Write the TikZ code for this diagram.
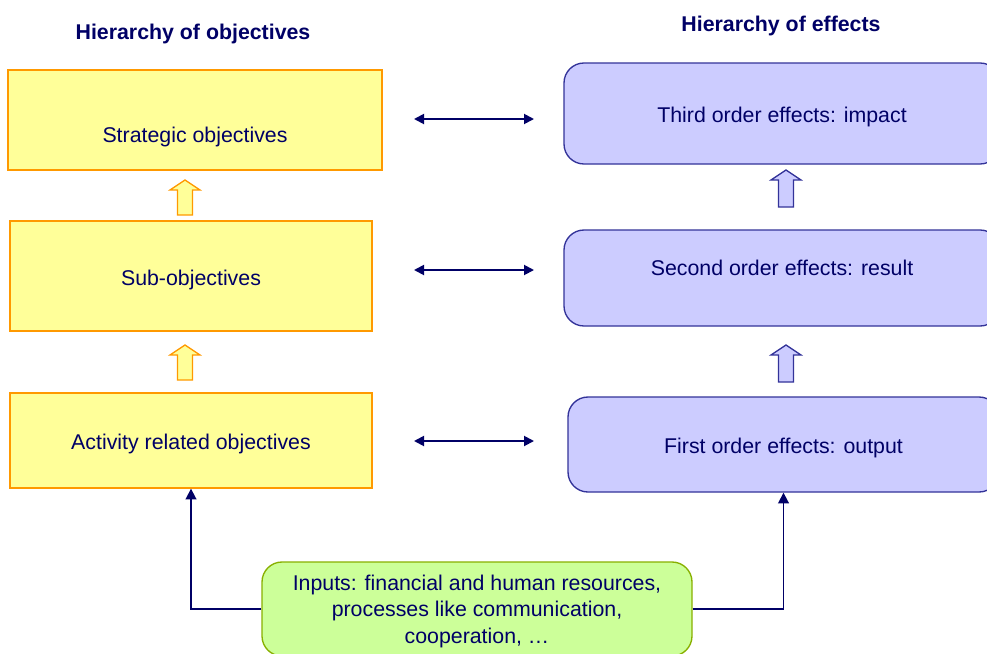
\documentclass[tikz,border=0pt]{standalone}
\usepackage{fontspec}
\setmainfont{Liberation Sans}
\usetikzlibrary{arrows.meta,calc}
\definecolor{txt}{HTML}{000066}
\definecolor{navy}{HTML}{000066}
\definecolor{yfill}{HTML}{FFFF99}
\definecolor{ydraw}{HTML}{FF9900}
\definecolor{bfill}{HTML}{CCCCFF}
\definecolor{bdraw}{HTML}{333399}
\definecolor{gfill}{HTML}{CCFF99}
\definecolor{gdraw}{HTML}{88B000}
\newcommand{\blkarrow}[4]{% x, ytop, ybottom, style
  \filldraw[#4] (#1,#2) -- (#1+15,#2+10) -- (#1+7.5,#2+10) -- (#1+7.5,#3) -- (#1-7.5,#3) -- (#1-7.5,#2+10) -- (#1-15,#2+10) -- cycle;}
\begin{document}
\begin{tikzpicture}[x=0.75pt,y=-0.75pt,
  every node/.style={text=txt,font=\fontsize{16}{20}\selectfont,text depth=0pt},
  one/.style={text height=14pt},
  every label/.style={one},
  ybox/.style={draw=ydraw,fill=yfill,line width=1pt,inner sep=0pt,one},
  bbox/.style={draw=bdraw,fill=bfill,line width=1pt,rounded corners=15pt,inner sep=0pt,one},
  gbox/.style={draw=gdraw,fill=gfill,line width=1pt,rounded corners=15pt,inner sep=0pt,align=center},
  title/.style={font=\fontsize{16}{20}\selectfont\bfseries,one},
  dbl/.style={navy,line width=1.4pt,{Triangle[length=7.5pt,width=7.5pt]}-{Triangle[length=7.5pt,width=7.5pt]}},
  conn/.style={navy,line width=1.3pt,-{Triangle[length=8pt,width=8pt]}},
  yarr/.style={draw=ydraw,fill=yfill,line width=1pt,line join=miter},
  barr/.style={draw=bdraw,fill=bfill,line width=1pt,line join=miter}]
\useasboundingbox (0,0) rectangle (987,653);
\fill[white] (0,0) rectangle (987,653);

% titles
\node[title] (t1) at (193,30) {Hierarchy of objectives};
\node[title] (t2) at (781,22) {Hierarchy of effects};

% left boxes
\node[ybox,minimum width=374*0.75pt,minimum height=100*0.75pt,
  label={[yshift=-13*0.75pt]center:Strategic objectives}] (s) at (195,120) {};
\node[ybox,minimum width=362*0.75pt,minimum height=110*0.75pt] (o) at (191,276) {Sub-objectives};
\node[ybox,minimum width=362*0.75pt,minimum height=95*0.75pt] (a) at (191,440.5) {Activity related objectives};

% right boxes
\node[bbox,minimum width=436*0.75pt,minimum height=101*0.75pt] (t) at (782,113.5) {Third order effects: impact};
\node[bbox,minimum width=436*0.75pt,minimum height=96*0.75pt,
  label={[yshift=12*0.75pt]center:Second order effects: result}] (r) at (782,278) {};
\node[bbox,minimum width=431*0.75pt,minimum height=95*0.75pt] (f) at (783.5,444.5) {First order effects: output};

% inputs box
\node[gbox,minimum width=430*0.75pt,minimum height=94*0.75pt] (g) at (477,609)
  {Inputs: financial and human resources,\\processes like communication,\\cooperation, …};

% block arrows
\blkarrow{185}{180}{215}{yarr}
\blkarrow{185}{345}{380}{yarr}
\blkarrow{786}{170}{207}{barr}
\blkarrow{786}{345}{382}{barr}

% double arrows
\draw[dbl] (414,119) -- (534,119);
\draw[dbl] (414,270) -- (534,270);
\draw[dbl] (414,441) -- (534,441);

% input connectors
\draw[conn] (g.west) -| (a.south);
\draw[conn] (g.east) -| (f.south);
\end{tikzpicture}
\end{document}
